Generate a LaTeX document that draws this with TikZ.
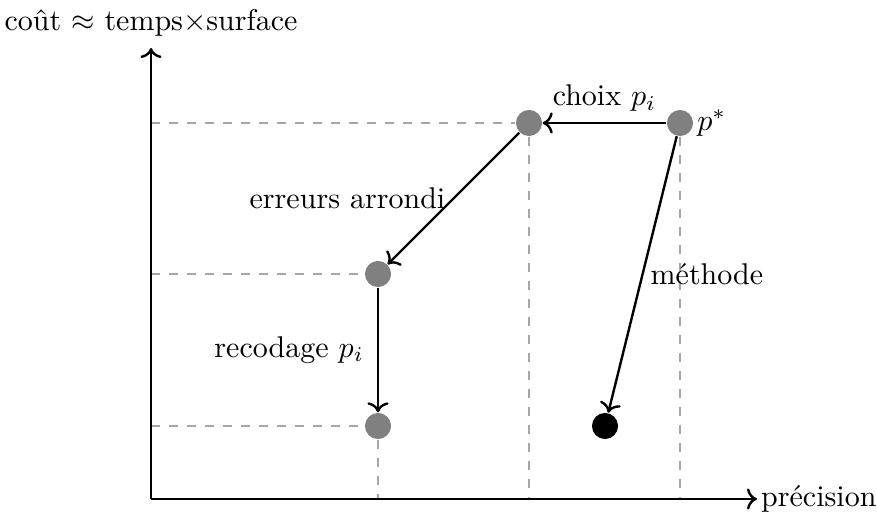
\documentclass[tikz,border=0pt]{standalone}
\usetikzlibrary{arrows.meta}
\begin{document}
\begin{tikzpicture}[x={(0.3333pt,0)},y={(0,-0.3333pt)},
  pt/.style={circle,fill=gray,inner sep=0pt,minimum size=8.7pt},
  bpt/.style={circle,fill=black,inner sep=0pt,minimum size=8.7pt},
  guide/.style={gray!70,dashed,thin},
  arr/.style={->,thick},
  axis/.style={->,thick}]
\useasboundingbox (0,0) rectangle (877,513);
\coordinate (O) at (151,499);
\coordinate (Y) at (151,48);
\coordinate (X) at (757,499);
\coordinate (ya) at (151,123);
\coordinate (yb) at (151,274);
\coordinate (yc) at (151,426);
\coordinate (xa) at (529,499);
\coordinate (xp) at (680,499);
\coordinate (xc) at (378,499);
\node[pt] (A) at (529,123) {};
\node[pt] (P) at (680,123) {};
\node[pt] (B) at (378,274) {};
\node[pt] (C) at (378,426) {};
\node[bpt] (D) at (605,426) {};
\draw[guide] (ya) -- (A.west);
\draw[guide] (yb) -- (B.west);
\draw[guide] (yc) -- (C.west);
\draw[guide] (A.south) -- (xa);
\draw[guide] (P.south) -- (xp);
\draw[guide] (C.south) -- (xc);
\draw[axis] (O) -- (Y) node[above=0pt] (ylab) {coût $\approx$ temps$\times$surface};
\draw[axis] (O) -- (X) node[anchor=west,inner sep=1pt] (xlab) {précision};
\node[anchor=west,inner sep=1pt] (plab) at (P.east) {$p^*$};
\draw[arr] (P) -- node[above=0pt] (l1) {choix $p_i$} (A);
\draw[arr] (A) -- node[left=-1pt] (l2) {erreurs arrondi} (B);
\draw[arr] (B) -- node[left=1pt] (l3) {recodage $p_i$} (C);
\draw[arr] (P) -- node[right=-1pt] (l4) {méthode} (D);
\end{tikzpicture}
\end{document}
